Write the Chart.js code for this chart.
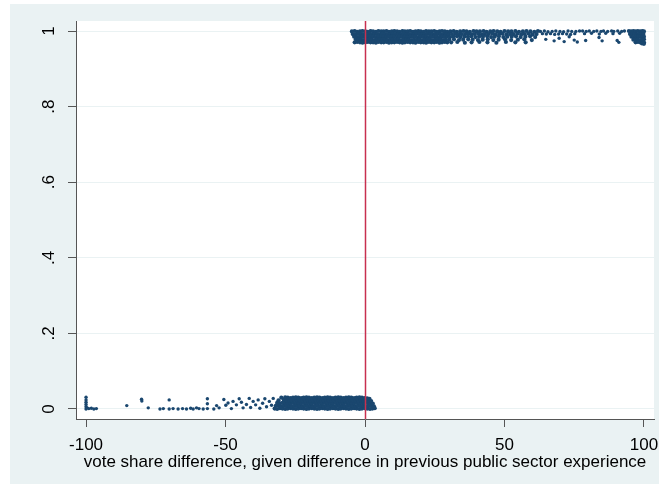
<!DOCTYPE html>
<html>
<head>
<meta charset="utf-8">
<script src="https://cdn.jsdelivr.net/npm/chart.js@4.4.1/dist/chart.umd.min.js"></script>
<style>
  html, body { margin: 0; padding: 0; background: #ffffff; }
  #rdplot { display: block; }
</style>
</head>
<body>
<canvas id="rdplot" width="659" height="484"></canvas>
<script>
// axis setup
const cutoff = 0;
const xTicks = [-100, -50, 0, 50, 100];
const yTicks = [0, 0.2, 0.4, 0.6, 0.8, 1];
const yTickLabels = ['0', '.2', '.4', '.6', '.8', '1'];
const xTitle = 'vote share difference, given difference in previous public sector experience';

// outcome = 1 (jittered just below 1), crowded part
const winnersCore = [
  // main band, -5 to 30
  [-4.7,0.999],[-3.7,1.0],[-2.8,0.998],[-1.8,0.999],[-0.9,1.0],[0.1,0.999],[1.0,0.998],[2.0,1.0],[2.9,0.999],[3.9,0.998],
  [4.8,1.0],[5.8,0.999],[6.7,0.999],[7.7,1.0],[8.6,0.998],[9.6,0.999],[10.5,1.0],[11.5,0.999],[12.4,0.998],[13.4,1.0],
  [14.3,0.999],[15.3,0.999],[16.2,1.0],[17.2,0.998],[18.1,0.999],[19.1,1.0],[20.0,0.999],[21.0,0.998],[21.9,1.0],[22.9,0.999],
  [23.8,0.999],[24.8,1.0],[25.7,0.998],[26.7,0.999],[27.6,1.0],[28.6,0.999],[29.5,0.998],
  [-4.4,0.992],[-3.3,0.991],[-2.3,0.993],[-1.4,0.992],[-0.4,0.991],[0.5,0.992],[1.5,0.993],[2.4,0.991],[3.4,0.992],[4.3,0.992],
  [5.3,0.991],[6.2,0.993],[7.2,0.992],[8.1,0.991],[9.1,0.992],[10.0,0.993],[11.0,0.992],[11.9,0.991],[12.9,0.992],[13.8,0.993],
  [14.8,0.991],[15.7,0.992],[16.7,0.992],[17.6,0.991],[18.6,0.993],[19.5,0.992],[20.5,0.991],[21.4,0.992],[22.4,0.993],[23.3,0.992],
  [24.3,0.991],[25.2,0.992],[26.2,0.993],[27.1,0.991],[28.1,0.992],[29.0,0.992],
  [-3.9,0.985],[-2.8,0.984],[-1.8,0.986],[-0.9,0.985],[0.1,0.984],[1.0,0.985],[2.0,0.986],[2.9,0.985],[3.9,0.984],[4.8,0.985],
  [5.8,0.986],[6.7,0.985],[7.7,0.984],[8.6,0.985],[9.6,0.985],[10.5,0.986],[11.5,0.984],[12.4,0.985],[13.4,0.985],[14.3,0.986],
  [15.3,0.984],[16.2,0.985],[17.2,0.985],[18.1,0.986],[19.1,0.984],[20.0,0.985],[21.0,0.985],[21.9,0.986],[22.9,0.984],[23.8,0.985],
  [24.8,0.985],[25.7,0.986],[26.7,0.984],[27.6,0.985],[28.6,0.985],[29.5,0.986],
  [-3.3,0.978],[-2.3,0.977],[-1.4,0.977],[-0.4,0.976],[0.5,0.977],[1.5,0.978],[2.4,0.977],[3.4,0.976],[4.3,0.977],[5.3,0.978],
  [6.2,0.977],[7.2,0.977],[8.1,0.976],[9.1,0.978],[10.0,0.977],[11.0,0.977],[11.9,0.978],[12.9,0.976],[13.8,0.977],[14.8,0.977],
  [15.7,0.978],[16.7,0.976],[17.6,0.977],[18.6,0.977],[19.5,0.978],[20.5,0.976],[21.4,0.977],[22.4,0.977],[23.3,0.978],[24.3,0.976],
  [25.2,0.977],[26.2,0.977],[27.1,0.978],[28.1,0.976],[29.0,0.977],
  [-3.7,0.970],[-2.8,0.971],[-1.8,0.970],[-0.9,0.969],[0.1,0.970],[1.0,0.971],[2.0,0.970],[2.9,0.970],[3.9,0.969],[4.8,0.971],
  [5.8,0.970],[6.7,0.970],[7.7,0.971],[8.6,0.969],[9.6,0.970],[10.5,0.970],[11.5,0.971],[12.4,0.970],[13.4,0.969],[14.3,0.970],
  [15.3,0.971],[16.2,0.970],[17.2,0.970],[18.1,0.969],[19.1,0.971],[20.0,0.970],[21.0,0.970],[21.9,0.969],[22.9,0.971],[23.8,0.970],
  [24.8,0.970],[25.7,0.971],[26.7,0.969],[27.6,0.970],[28.6,0.971],[29.5,0.970],
  // thinning out, 30 to 62
  [30.6,0.999],[31.8,1.0],[32.9,0.998],[34.1,0.999],[35.3,1.0],[36.4,0.999],[37.6,0.998],[38.9,1.0],[40.0,0.999],[41.2,0.999],
  [42.5,1.0],[43.6,0.998],[44.9,0.999],[46.1,1.0],[47.4,0.999],[48.6,0.998],[50.0,1.0],[51.3,0.999],[52.5,0.999],[53.9,1.0],
  [55.2,0.998],[56.6,0.999],[57.9,1.0],[59.3,0.999],[60.7,0.998],[62.0,1.0],
  [30.0,0.991],[31.2,0.992],[32.4,0.993],[33.5,0.991],[34.7,0.992],[35.9,0.992],[37.1,0.993],[38.3,0.991],[39.4,0.992],[40.7,0.993],
  [41.9,0.991],[43.0,0.992],[44.3,0.992],[45.6,0.993],[46.8,0.991],[48.1,0.992],[49.3,0.993],[50.7,0.991],[52.0,0.992],[53.2,0.992],
  [54.6,0.993],[56.0,0.991],[57.3,0.992],[58.7,0.993],[60.1,0.991],[61.5,0.992],
  [30.5,0.984],[31.7,0.985],[33.0,0.986],[34.2,0.984],[35.6,0.985],[36.9,0.985],[38.1,0.986],[39.6,0.984],[40.9,0.985],[42.3,0.985],
  [43.8,0.986],[45.2,0.984],[46.5,0.985],[48.0,0.986],[49.6,0.984],[51.0,0.985],[52.6,0.985],[54.1,0.986],[55.8,0.984],[57.5,0.985],
  [59.2,0.986],[61.0,0.984],
  [30.2,0.977],[31.9,0.978],[33.7,0.976],[35.2,0.977],[37.0,0.978],[38.6,0.977],[40.5,0.976],[42.2,0.977],[44.0,0.978],[46.0,0.976],
  [47.9,0.977],[50.2,0.978],[52.4,0.976],[54.8,0.977],[57.1,0.978],[59.8,0.976],
  [30.9,0.970],[33.1,0.971],[35.8,0.969],[38.2,0.970],[41.0,0.971],[43.9,0.970],[47.1,0.969],[50.5,0.971],[53.9,0.970],[57.6,0.970],
  // pile-up at 100
  [94.6,1.0],[95.4,0.999],[96.2,1.0],[97.0,0.999],[97.8,1.0],[98.6,0.999],[99.4,1.0],[100.0,0.999],
  [95.0,0.992],[95.8,0.993],[96.6,0.992],[97.4,0.991],[98.2,0.992],[99.0,0.993],[99.8,0.992],
  [95.5,0.985],[96.3,0.984],[97.1,0.985],[97.9,0.986],[98.7,0.985],[99.5,0.984],[100.0,0.985],
  [96.2,0.977],[97.0,0.978],[97.8,0.977],[98.6,0.976],[99.4,0.977],[100.0,0.978],
  [97.0,0.970],[97.8,0.971],[98.6,0.970],[99.4,0.969],[100.0,0.970],
  [99.3,0.967],[100.0,0.966]
];

// outcome = 1, scattered part, 62 to 94
const winnersTail = [
  [62.9,0.999],[64.3,1.0],[65.6,0.998],[67.1,0.999],[68.4,1.0],[69.9,0.999],[71.2,0.998],[72.8,1.0],[74.1,0.999],[75.6,0.999],[76.9,1.0],
  [63.6,0.993],[65.0,0.992],[66.5,0.993],[68.0,0.991],[69.4,0.992],[70.8,0.993],[72.3,0.992],[73.7,0.991],[75.2,0.993],
  [64.8,0.978],[67.8,0.974],[69.6,0.981],[71.4,0.972],[73.2,0.985],[75.0,0.976],[76.1,0.971],[79.1,0.975],
  [78.0,1.0],[79.3,0.999],[80.4,1.0],[82.0,0.999],[83.1,1.0],[84.6,0.999],[85.5,1.0],[87.0,0.999],[88.4,1.0],[89.2,0.999],
  [90.6,1.0],[92.0,0.999],[93.0,1.0],
  [78.7,0.993],[81.2,0.994],[84.0,0.992],[86.3,0.994],[88.9,0.993],[91.3,0.994],
  [83.9,0.983],[85.0,0.974],[90.4,0.975],[91.0,0.970]
];

// outcome = 0 (jittered just above 0), crowded part, -33 to 3
const losersCore = [
  [-32.4,0.001],[-31.5,0.0],[-30.5,0.002],[-29.6,0.001],[-28.6,0.0],[-27.7,0.001],[-26.7,0.002],[-25.8,0.001],[-24.8,0.0],[-23.9,0.001],
  [-22.9,0.002],[-22.0,0.001],[-21.0,0.0],[-20.1,0.001],[-19.1,0.002],[-18.2,0.001],[-17.2,0.0],[-16.3,0.001],[-15.3,0.002],[-14.4,0.001],
  [-13.4,0.0],[-12.5,0.001],[-11.5,0.002],[-10.6,0.001],[-9.6,0.0],[-8.7,0.001],[-7.7,0.002],[-6.8,0.001],[-5.8,0.0],[-4.9,0.001],
  [-3.9,0.002],[-3.0,0.001],[-2.0,0.0],[-1.1,0.001],[-0.1,0.002],[0.8,0.001],[1.8,0.0],[2.7,0.001],[3.5,0.002],
  [-32.0,0.008],[-31.0,0.009],[-30.1,0.007],[-29.1,0.008],[-28.2,0.008],[-27.2,0.009],[-26.3,0.007],[-25.3,0.008],[-24.4,0.008],[-23.4,0.009],
  [-22.5,0.007],[-21.5,0.008],[-20.6,0.008],[-19.6,0.009],[-18.7,0.007],[-17.7,0.008],[-16.8,0.008],[-15.8,0.009],[-14.9,0.007],[-13.9,0.008],
  [-13.0,0.008],[-12.0,0.009],[-11.1,0.007],[-10.1,0.008],[-9.2,0.008],[-8.2,0.009],[-7.3,0.007],[-6.3,0.008],[-5.4,0.008],[-4.4,0.009],
  [-3.5,0.007],[-2.5,0.008],[-1.6,0.008],[-0.6,0.009],[0.3,0.007],[1.3,0.008],[2.2,0.008],[3.2,0.007],
  [-31.5,0.016],[-30.5,0.015],[-29.6,0.016],[-28.6,0.017],[-27.7,0.016],[-26.7,0.015],[-25.8,0.016],[-24.8,0.016],[-23.9,0.017],[-22.9,0.015],
  [-22.0,0.016],[-21.0,0.016],[-20.1,0.017],[-19.1,0.015],[-18.2,0.016],[-17.2,0.016],[-16.3,0.017],[-15.3,0.015],[-14.4,0.016],[-13.4,0.016],
  [-12.5,0.017],[-11.5,0.015],[-10.6,0.016],[-9.6,0.016],[-8.7,0.017],[-7.7,0.015],[-6.8,0.016],[-5.8,0.016],[-4.9,0.017],[-3.9,0.015],
  [-3.0,0.016],[-2.0,0.016],[-1.1,0.017],[-0.1,0.015],[0.8,0.016],[1.8,0.015],[2.8,0.014],
  [-31.0,0.023],[-29.1,0.024],[-28.2,0.023],[-27.2,0.022],[-26.3,0.023],[-25.3,0.024],[-24.4,0.023],[-23.4,0.022],[-22.5,0.023],[-21.5,0.024],
  [-20.6,0.023],[-19.6,0.022],[-18.7,0.023],[-17.7,0.024],[-16.8,0.023],[-15.8,0.022],[-14.9,0.023],[-13.9,0.024],[-13.0,0.023],[-12.0,0.022],
  [-11.1,0.023],[-10.1,0.024],[-9.2,0.023],[-8.2,0.022],[-7.3,0.023],[-6.3,0.024],[-5.4,0.023],[-4.4,0.022],[-3.5,0.023],[-2.5,0.024],
  [-1.6,0.023],[-0.6,0.022],[0.3,0.023],[1.3,0.022],[2.2,0.021],
  [-30.0,0.030],[-28.6,0.031],[-27.7,0.030],[-26.7,0.029],[-25.8,0.030],[-24.8,0.031],[-23.9,0.030],[-22.9,0.029],[-22.0,0.030],[-21.0,0.031],
  [-20.1,0.030],[-19.1,0.029],[-18.2,0.030],[-17.2,0.031],[-16.3,0.030],[-15.3,0.029],[-14.4,0.030],[-13.4,0.031],[-12.5,0.030],[-11.5,0.029],
  [-10.6,0.030],[-9.6,0.031],[-8.7,0.030],[-7.7,0.029],[-6.8,0.030],[-5.8,0.031],[-4.9,0.030],[-3.9,0.029],[-3.0,0.030],[-2.0,0.031],
  [-1.1,0.030],[-0.1,0.029],[0.8,0.028],[1.6,0.027]
];

// outcome = 0, scattered part, -100 to -33
const losersTail = [
  [-100,0.0],[-100,0.006],[-100,0.012],[-100,0.018],[-100,0.024],[-100,0.031],
  [-99.6,0.003],[-99.0,0.001],[-98.1,0.002],[-97.2,0.0],[-96.3,0.001],
  [-85.4,0.009],[-80.1,0.026],[-80.0,0.021],[-77.7,0.003],[-73.5,0.0],[-72.3,0.001],[-70.2,0.024],[-70.2,0.0],
  [-68.8,0.001],[-67.0,0.0],[-65.4,0.001],[-64.0,0.0],[-62.5,0.002],[-61.6,0.0],[-60.4,0.003],[-59.5,0.001],[-58.0,0.0],
  [-56.5,0.027],[-56.5,0.014],[-56.5,0.001],[-54.2,0.0],[-53.2,0.009],[-52.3,0.003],
  [-50.6,0.025],[-49.9,0.010],[-49.1,0.016],[-47.9,0.001],[-47.3,0.020],[-46.1,0.011],[-45.1,0.027],[-44.3,0.018],
  [-43.7,0.003],[-42.5,0.012],[-41.5,0.028],[-41.0,0.004],[-40.1,0.020],[-39.2,0.011],[-38.3,0.024],[-37.7,0.002],
  [-36.7,0.015],[-35.9,0.027],[-35.3,0.006],[-34.3,0.020],[-33.5,0.010],[-32.9,0.028]
];

const navy = '#1a476f';
const bgBlue = '#eaf2f3';
const axisGrey = '#555555';
const fontFamily = '"Liberation Sans", Arial, sans-serif';

// page + plot region backgrounds
const backdrop = {
  id: 'backdrop',
  beforeDraw(chart) {
    const { ctx, width, height, chartArea } = chart;
    ctx.save();
    ctx.fillStyle = '#ffffff';
    ctx.fillRect(0, 0, width, height);
    ctx.fillStyle = bgBlue;
    ctx.fillRect(10, 4, width - 10, height - 4);
    ctx.fillStyle = '#ffffff';
    ctx.fillRect(chartArea.left, chartArea.top, chartArea.right - chartArea.left, chartArea.bottom - chartArea.top);
    ctx.restore();
  }
};

// vertical line at the cutoff
const cutoffLine = {
  id: 'cutoffLine',
  afterDatasetsDraw(chart) {
    const { ctx, chartArea, scales } = chart;
    const x = Math.round(scales.x.getPixelForValue(cutoff)) + 0.5;
    ctx.save();
    ctx.strokeStyle = '#c8304f';
    ctx.lineWidth = 1.5;
    ctx.beginPath();
    ctx.moveTo(x, chartArea.top);
    ctx.lineTo(x, chartArea.bottom);
    ctx.stroke();
    ctx.restore();
  }
};

// y labels are drawn rotated, centred on each tick
const yLabels = {
  id: 'yLabels',
  afterDraw(chart) {
    const { ctx, scales } = chart;
    ctx.save();
    ctx.fillStyle = '#000000';
    ctx.font = '17px ' + fontFamily;
    ctx.textAlign = 'center';
    ctx.textBaseline = 'alphabetic';
    yTicks.forEach((v, i) => {
      const y = scales.y.getPixelForValue(v);
      ctx.save();
      ctx.translate(54, y);
      ctx.rotate(-Math.PI / 2);
      ctx.fillText(yTickLabels[i], 0, 0);
      ctx.restore();
    });
    ctx.restore();
  }
};

function series(label, pts, r) {
  return {
    label: label,
    data: pts.map(p => ({ x: p[0], y: p[1] })),
    backgroundColor: navy,
    borderWidth: 0,
    pointRadius: r,
    pointHoverRadius: r
  };
}

new Chart(document.getElementById('rdplot'), {
  type: 'scatter',
  data: {
    datasets: [
      series('winners', winnersCore, 2.1),
      series('winners', winnersTail, 1.7),
      series('losers', losersCore, 2.1),
      series('losers', losersTail, 1.7)
    ]
  },
  options: {
    responsive: false,
    devicePixelRatio: 1,
    animation: false,
    events: [],
    layout: { padding: { left: 10, top: 21, right: 5, bottom: 0 } },
    plugins: {
      legend: { display: false },
      tooltip: { enabled: false }
    },
    scales: {
      x: {
        type: 'linear',
        min: -103.6,
        max: 103.6,
        afterBuildTicks: s => { s.ticks = xTicks.map(v => ({ value: v })); },
        afterFit: s => { s.height = 65; s.paddingLeft = 0; s.paddingRight = 0; },
        ticks: {
          color: '#000000',
          font: { family: fontFamily, size: 17 },
          padding: 8,
          maxRotation: 0,
          autoSkip: false,
          callback: v => String(v)
        },
        grid: { drawOnChartArea: false, tickLength: 8, tickColor: axisGrey, tickWidth: 1 },
        border: { color: axisGrey, width: 1 },
        title: {
          display: true,
          text: xTitle,
          color: '#000000',
          font: { family: fontFamily, size: 17, lineHeight: 1.2 },
          padding: { top: 0, bottom: 11 }
        }
      },
      y: {
        type: 'linear',
        min: -0.0265,
        max: 1.0265,
        afterBuildTicks: s => { s.ticks = yTicks.map(v => ({ value: v })); },
        afterFit: s => { s.width = 66; s.paddingTop = 0; s.paddingBottom = 0; },
        ticks: { display: false },
        grid: { color: bgBlue, lineWidth: 1, tickLength: 8, tickColor: axisGrey, tickWidth: 1 },
        border: { color: axisGrey, width: 1 }
      }
    }
  },
  plugins: [backdrop, cutoffLine, yLabels]
});
</script>
</body>
</html>
